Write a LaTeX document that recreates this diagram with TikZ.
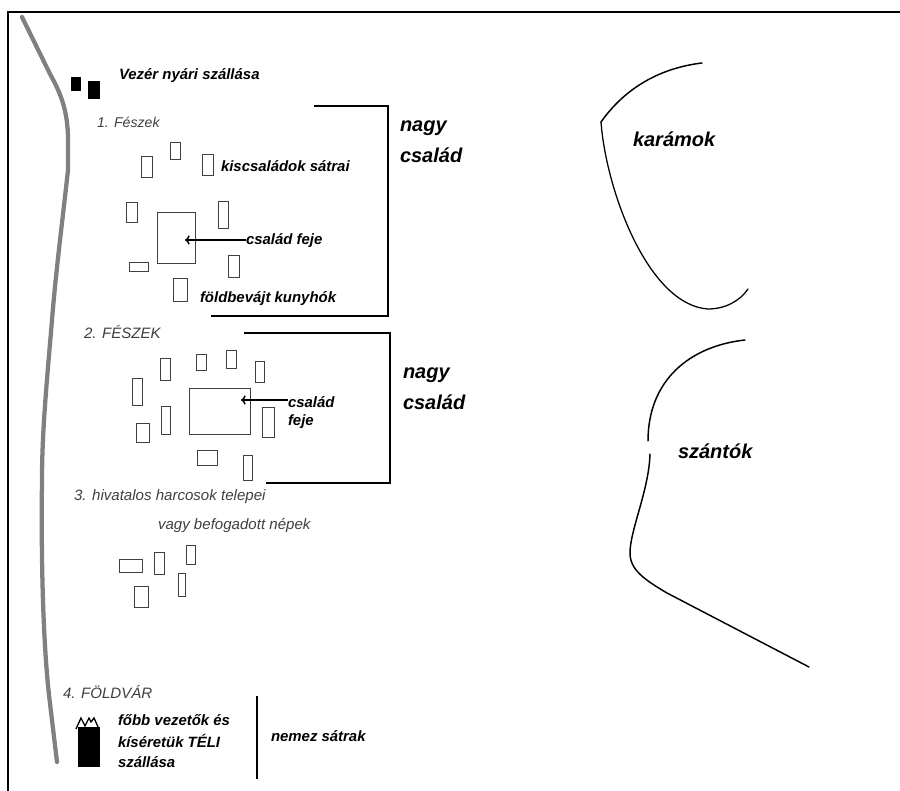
\documentclass[tikz,border=0pt]{standalone}
\usepackage{fontspec}
\setmainfont{Liberation Sans}
\newcommand{\fs}[1]{\fontsize{#1}{#1}\selectfont}
\usetikzlibrary{arrows.meta}
\tikzset{
 lab/.style={anchor=west,inner sep=0pt,outer sep=0pt,font=\fs{11.2pt}\bfseries\itshape},
 big/.style={lab,font=\fs{15pt}\bfseries\itshape},
 thin lab/.style={lab,font=\fs{11.3pt}\itshape,text=black!75},
 tent/.style={draw=black!75,line width=0.75pt,fill=white},
 brace/.style={draw=black,line width=1.35pt},
 river/.style={draw=black!50,line width=3.2pt,line cap=round,line join=round},
 fence/.style={draw=black,line width=1.1pt,line cap=round},
 pointer/.style={draw=black,line width=1.1pt,-{To[length=3.5pt,width=7pt]}},
}
\begin{document}
\begin{tikzpicture}[x=0.75pt,y=-0.75pt]
\useasboundingbox (0,0) rectangle (900,791);
\fill[white] (0,0) rectangle (900,791);
% frame
\draw[line width=1.5pt] (8,791) -- (8,12) -- (900,12);
% river
\draw[river] (22,17) -- (50,74) .. controls (60,92) and (68,110) .. (68,140) -- (68,170)
  .. controls (62,225) and (56,270) .. (52,320) .. controls (47,380) and (42,430) .. (42,480)
  .. controls (41,560) and (43,640) .. (49,695) -- (57,762);
% summer quarters
\fill (71,77) rectangle (81,91);
\fill (88,81) rectangle (100,99);
\node[lab] (vezer) at (119,76) {Vezér nyári szállása};
\node[thin lab,font=\fs{10.6pt}\itshape] (f1) at (97,122) {1. Fészek};
% nest 1 tents
\foreach \a/\b/\c/\d in {141/157/152/178,170/143/180/160,202/155/213/176,126/203/137/223,218/202/228/229,129/263/148/272,228/256/239/278,173/279/187/302}
  \draw[tent] (\a,\b) rectangle (\c,\d);
\draw[tent] (157,213) rectangle (195,264);
\node[lab] (kis) at (221,166) {kiscsaládok sátrai};
\node[lab] (fej1) at (246,241) {család feje};
\coordinate (t1) at (185,240);
\draw[pointer] (t1 -| fej1.west) -- (t1);
\node[lab] (fold) at (200,299) {földbevájt kunyhók};
\coordinate (b1a) at (314,106);
\coordinate (b1b) at (388,106);
\coordinate (b1c) at (388,316);
\coordinate (b1d) at (211,316);
\draw[brace] (b1a) -- (b1b) -- (b1c) -- (b1d);
\node[big] (ng1) at (400,128) {nagy};
\node[big] (cs1) at (400,155) {család};
% nest 2
\node[thin lab] (f2) at (84,332) {2. FÉSZEK};
\foreach \a/\b/\c/\d in {160/359/170/381,196/355/206/371,226/351/236/369,255/362/264/383,132/379/142/406,161/407/170/435,136/424/149/443,262/408/274/438,197/451/217/466,243/456/252/481}
  \draw[tent] (\a,\b) rectangle (\c,\d);
\draw[tent] (189,389) rectangle (250,435);
\node[lab] (cs2) at (288,402) {család};
\node[lab] (fe2) at (288,422) {feje};
\coordinate (t2) at (241,400);
\draw[pointer] (t2 -| cs2.west) -- (t2);
\coordinate (b2a) at (244,333);
\coordinate (b2b) at (390,333);
\coordinate (b2c) at (390,483);
\coordinate (b2d) at (266,483);
\draw[brace] (b2a) -- (b2b) -- (b2c) -- (b2d);
\node[big] (ng2) at (403,375) {nagy};
\node[big] (cs3) at (403,402) {család};
% 3
\node[thin lab] (f3) at (74,497) {3. hivatalos harcosok telepei};
\node[thin lab] (f3b) at (158,526) {vagy befogadott népek};
\foreach \a/\b/\c/\d in {119/559/142/572,154/552/164/574,186/545/195/564,178/573/185/596,134/586/148/607}
  \draw[tent] (\a,\b) rectangle (\c,\d);
% 4
\node[thin lab] (f4) at (63,692) {4. FÖLDVÁR};
\fill (78,727) rectangle (100,767);
\draw[line width=1pt,line join=miter] (76,729) -- (81,718) -- (85,726) -- (89,718) -- (91,722) -- (94,718) -- (99,729);
\node[lab] (v1) at (118,720) {főbb vezetők és};
\node[lab] (v2) at (118,741) {kíséretük TÉLI};
\node[lab] (v3) at (118,762) {szállása};
\coordinate (d1) at (257,696);
\coordinate (d2) at (257,779);
\draw[draw=black,line width=1.5pt] (d1) -- (d2);
\node[lab] (nem) at (271,736) {nemez sátrak};
% right side
\draw[fence] (702,63) .. controls (660,68) and (625,88) .. (601,122);
\draw[fence,line width=0.95pt] (601,122) .. controls (606,190) and (648,305) .. (708,309) .. controls (725,309) and (740,301) .. (748,289);
\node[big] (kar) at (633,139) {karámok};
\draw[fence] (745,340) .. controls (690,346) and (648,380) .. (648,441);
\draw[fence] (650,454) .. controls (649,490) and (630,530) .. (630,553) .. controls (630,570) and (645,580) .. (667,593) -- (809,667);
\node[big] (sza) at (678,451) {szántók};
\end{tikzpicture}
\end{document}
